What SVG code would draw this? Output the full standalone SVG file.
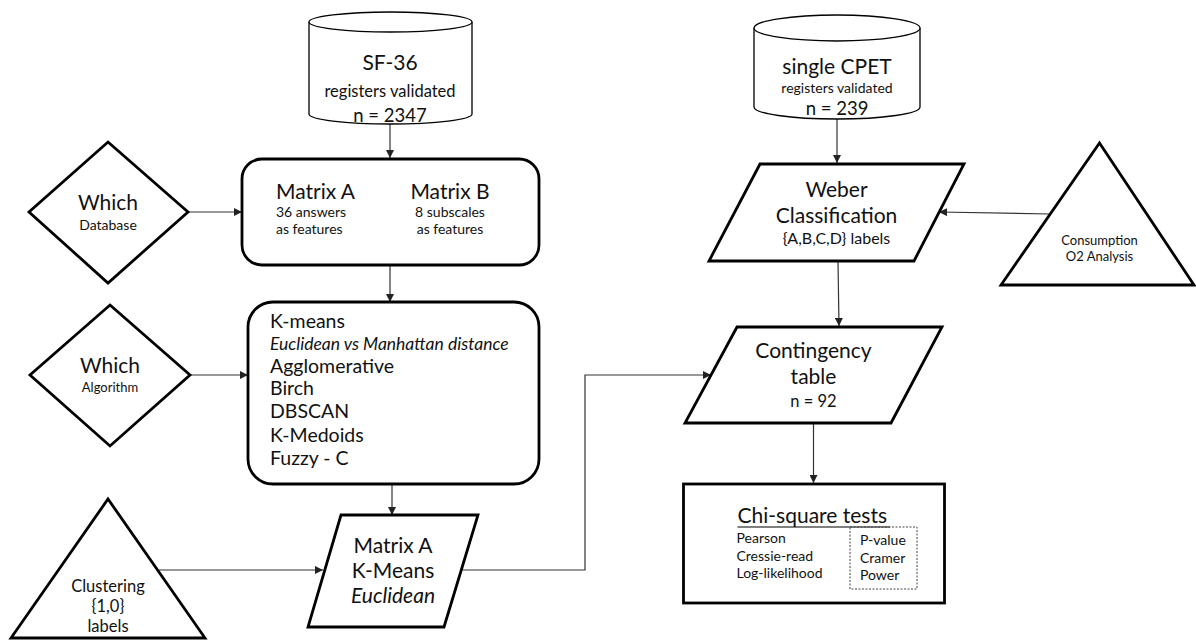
<svg xmlns="http://www.w3.org/2000/svg" width="1196" height="640" viewBox="0 0 1196 640">
<style>
text{font-family:Lato,"Open Sans","Liberation Sans",sans-serif;fill:#111}
.shape{fill:#fff;stroke:#000;stroke-width:2.8;stroke-linejoin:miter}
.cyl{fill:#fff;stroke:#000;stroke-width:1.3}
.conn{fill:none;stroke:#333;stroke-width:1.2}
.c{text-anchor:middle}
.it{font-style:italic}
</style>
<defs>
<marker id="arr" viewBox="0 0 10 10" refX="10" refY="5" markerWidth="8" markerHeight="8" markerUnits="userSpaceOnUse" orient="auto">
<path d="M0,0 L10,5 L0,10 z" fill="#222"/>
</marker>
</defs>
<g id="connectors">
<line class="conn" x1="390" y1="124" x2="390" y2="158" marker-end="url(#arr)"/>
<line class="conn" x1="188" y1="212" x2="242" y2="212" marker-end="url(#arr)"/>
<line class="conn" x1="390" y1="265" x2="390" y2="302" marker-end="url(#arr)"/>
<line class="conn" x1="190" y1="375" x2="248" y2="375" marker-end="url(#arr)"/>
<line class="conn" x1="392" y1="484" x2="392" y2="515" marker-end="url(#arr)"/>
<line class="conn" x1="159" y1="570" x2="323" y2="570" marker-end="url(#arr)"/>
<polyline class="conn" points="463,570 585,570 585,375 711,375" marker-end="url(#arr)"/>
<line class="conn" x1="837" y1="119" x2="837" y2="163" marker-end="url(#arr)"/>
<line class="conn" x1="1050" y1="214" x2="939" y2="212" marker-end="url(#arr)"/>
<line class="conn" x1="838" y1="261" x2="839" y2="326" marker-end="url(#arr)"/>
<line class="conn" x1="813.5" y1="423" x2="813.5" y2="483" marker-end="url(#arr)"/>
</g>
<g id="sf36">
<path class="cyl" d="M309,22 L309,114 A81.5,10 0 0 0 472,114 L472,22"/>
<ellipse class="cyl" cx="390.5" cy="22" rx="81.5" ry="10"/>
<text class="c" x="390" y="70" font-size="21">SF-36</text>
<text class="c" x="390" y="97" font-size="16.5">registers validated</text>
<text class="c" x="390" y="122" font-size="18.5">n = 2347</text>
</g>
<g id="which-database">
<polygon class="shape" points="108,142 188,212 108,283 29,212"/>
<text class="c" x="108" y="210" font-size="21">Which</text>
<text class="c" x="108" y="230" font-size="14">Database</text>
</g>
<g id="matrix">
<rect class="shape" x="242" y="159" width="297" height="106" rx="20" ry="20"/>
<text x="276" y="199" font-size="21">Matrix A</text>
<text x="276" y="217" font-size="14">36 answers</text>
<text x="276" y="234" font-size="14">as features</text>
<text class="c" x="450" y="199" font-size="21">Matrix B</text>
<text class="c" x="450" y="217" font-size="14">8 subscales</text>
<text class="c" x="450" y="234" font-size="14">as features</text>
</g>
<g id="which-algorithm">
<polygon class="shape" points="110,305 190,375 110,446 30,375"/>
<text class="c" x="110" y="373" font-size="21">Which</text>
<text class="c" x="110" y="392" font-size="13">Algorithm</text>
</g>
<g id="algorithms">
<rect class="shape" x="248" y="302" width="291" height="182" rx="25" ry="25"/>
<text x="270" y="328" font-size="19.5">K-means</text>
<text class="it" x="270" y="350" font-size="17.5">Euclidean vs Manhattan distance</text>
<text x="270" y="373" font-size="19.5">Agglomerative</text>
<text x="270" y="395" font-size="19.5">Birch</text>
<text x="270" y="418" font-size="19.5">DBSCAN</text>
<text x="270" y="442" font-size="19.5">K-Medoids</text>
<text x="270" y="465" font-size="19.5">Fuzzy - C</text>
</g>
<g id="clustering">
<polygon class="shape" points="108,499 205,638 11,638"/>
<text class="c" x="108" y="592" font-size="16.5">Clustering</text>
<text class="c" x="108" y="612" font-size="16.5">{1,0}</text>
<text class="c" x="108" y="632" font-size="16.5">labels</text>
</g>
<g id="matrix-a-kmeans">
<polygon class="shape" points="341,515 478,515 444,627 308,627"/>
<text class="c" x="393" y="553" font-size="21">Matrix A</text>
<text class="c" x="393" y="578" font-size="21">K-Means</text>
<text class="c it" x="393" y="603" font-size="21">Euclidean</text>
</g>
<g id="cpet">
<path class="cyl" d="M754,28 L754,107 A83,12 0 0 0 920,107 L920,28"/>
<ellipse class="cyl" cx="837" cy="28" rx="83" ry="13"/>
<text class="c" x="837" y="74" font-size="21">single CPET</text>
<text class="c" x="837" y="93" font-size="14">registers validated</text>
<text class="c" x="837" y="115" font-size="18.5">n = 239</text>
</g>
<g id="weber">
<polygon class="shape" points="760,164 964,164 914,261 709,261"/>
<text class="c" x="836.5" y="197" font-size="21">Weber</text>
<text class="c" x="836.5" y="223" font-size="21">Classification</text>
<text class="c" x="836.5" y="244" font-size="16">{A,B,C,D} labels</text>
</g>
<g id="consumption">
<polygon class="shape" points="1099.5,143 1194,285 1001,285"/>
<text class="c" x="1099.5" y="245" font-size="13">Consumption</text>
<text class="c" x="1099.5" y="261" font-size="13">O2 Analysis</text>
</g>
<g id="contingency">
<polygon class="shape" points="737,327 942,327 891,423 685,423"/>
<text class="c" x="813.5" y="358" font-size="21">Contingency</text>
<text class="c" x="813.5" y="384" font-size="21">table</text>
<text class="c" x="813.5" y="407" font-size="16.5">n = 92</text>
</g>
<g id="chi-square">
<rect class="shape" x="683.5" y="484" width="261" height="119"/>
<text x="737.5" y="523" font-size="21">Chi-square tests</text>
<line x1="737.5" y1="527" x2="890" y2="527" stroke="#000" stroke-width="1.2"/>
<text x="736.5" y="543" font-size="14">Pearson</text>
<text x="736.5" y="561" font-size="14">Cressie-read</text>
<text x="736.5" y="578" font-size="14">Log-likelihood</text>
<rect x="850" y="527" width="67" height="62" fill="none" stroke="#444" stroke-width="1" stroke-dasharray="2,1.5"/>
<text x="860" y="545" font-size="14">P-value</text>
<text x="860" y="563" font-size="14">Cramer</text>
<text x="860" y="580" font-size="14">Power</text>
</g>
</svg>
